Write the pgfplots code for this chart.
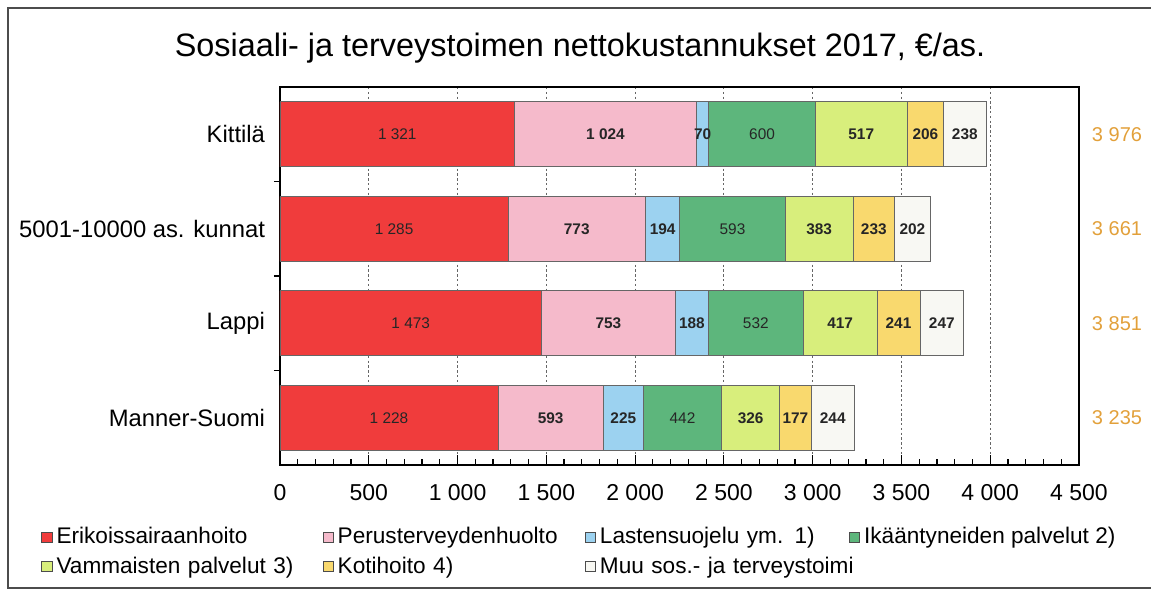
\documentclass[border=0pt]{standalone}
\usepackage{pgfplots}
\pgfplotsset{compat=1.18}
\usepackage{pgfplotstable}
\usepackage{fontspec}
\setmainfont{Liberation Sans}
\definecolor{cRed}{HTML}{F03C3C}
\definecolor{cPink}{HTML}{F5BACB}
\definecolor{cBlue}{HTML}{9CD2F0}
\definecolor{cGreen}{HTML}{5DB67C}
\definecolor{cLime}{HTML}{D8EE7C}
\definecolor{cYel}{HTML}{F9D96E}
\definecolor{cWhite}{HTML}{F8F8F3}
\definecolor{cTot}{HTML}{E2A03A}

\pgfplotstableread{
cat a b c d e f g
0 1321 1024 70 600 517 206 238
1 1285 773 194 593 383 233 202
2 1473 753 188 532 417 241 247
3 1228 593 225 442 326 177 244
}\data

\begin{document}
\begin{tikzpicture}
\useasboundingbox (-140pt,-63pt) rectangle (435.5pt,232.5pt);
\draw[black!70, line width=0.7pt] (435.5pt,228.5pt) -- (-136pt,228.5pt) -- (-136pt,-61.5pt) -- (435.5pt,-61.5pt);
\node[font=\fontsize{16.2}{19}\selectfont] at (150pt,208.5pt) {Sosiaali- ja terveystoimen nettokustannukset 2017, €/as.};
\begin{axis}[
  at={(0pt,0pt)}, anchor=south west,
  scale only axis, width=399.5pt, height=189pt,
  xbar stacked, bar width=32.5pt,
  xmin=0, xmax=4500, ymin=-0.5, ymax=3.5, y dir=reverse,
  clip=false,
  axis line style={black, line width=0.8pt},
  ytick={0,1,2,3},
  yticklabels={Kittilä, 5001-10000 as. kunnat, Lappi, Manner-Suomi},
  ytick style={draw=none},
  ytick pos=left, xtick pos=left,
  extra y ticks={0.5,1.5,2.5},
  extra y tick labels={},
  extra y tick style={ytick style={draw=black, line width=0.6pt}, tick align=outside, major tick length=3pt},
  yticklabel style={font=\fontsize{11.9}{14}\selectfont, xshift=-4pt},
  xtick={0,500,...,4500},
  minor x tick num=4,
  tick align=inside,
  xtick style={black, line width=0.6pt},
  major tick length=5pt, minor tick length=3pt,
  xmajorgrids,
  major grid style={black!60, line width=0.5pt, dash pattern=on 1.2pt off 1.2pt},
  /pgf/number format/assume math mode=true,
  xticklabel style={font=\fontsize{11.5}{13}\selectfont, yshift=-6pt, /pgf/number format/1000 sep={\ }},
  point meta=explicit,
  nodes near coords={\pgfmathprintnumber[1000 sep={\ }]{\pgfplotspointmeta}},
  every node near coord/.append style={anchor=center, font=\fontsize{7.7}{9}\selectfont, text=black!85},
  bld/.style={every node near coord/.append style={font=\fontsize{7.7}{9}\selectfont\bfseries}},
  legend columns=4,
  legend cell align=left,
  legend style={draw=none, fill=none, at={(-0.3067,-0.1429)}, anchor=north west,
    font=\fontsize{11.3}{13}\selectfont, row sep=1pt,
    /tikz/column 2/.style={nodes={text width=131pt}},
    /tikz/column 4/.style={nodes={text width=121.5pt}},
    /tikz/column 6/.style={nodes={text width=122.5pt}}},
  legend image code/.code={\draw[#1,draw=black!70,line width=0.4pt] (0pt,-2.6pt) rectangle (5.2pt,2.6pt);},
]
\addplot[fill=cRed, draw=black!60, line width=0.4pt] table[x=a, y=cat, meta=a] {\data};
\addplot[fill=cPink, draw=black!60, line width=0.4pt, bld] table[x=b, y=cat, meta=b] {\data};
\addplot[fill=cBlue, draw=black!60, line width=0.4pt, bld] table[x=c, y=cat, meta=c] {\data};
\addplot[fill=cGreen, draw=black!60, line width=0.4pt] table[x=d, y=cat, meta=d] {\data};
\addplot[fill=cLime, draw=black!60, line width=0.4pt, bld] table[x=e, y=cat, meta=e] {\data};
\addplot[fill=cYel, draw=black!60, line width=0.4pt, bld] table[x=f, y=cat, meta=f] {\data};
\addplot[fill=cWhite, draw=black!60, line width=0.4pt, bld] table[x=g, y=cat, meta=g] {\data};
\legend{Erikoissairaanhoito, Perusterveydenhuolto, Lastensuojelu ym. 1), Ikääntyneiden palvelut 2), Vammaisten palvelut 3), Kotihoito 4), \mbox{Muu sos.- ja terveystoimi}}
\node[font=\fontsize{10}{12}\selectfont, text=cTot] at (axis cs:4500,0) [xshift=19pt] {3 976};
\node[font=\fontsize{10}{12}\selectfont, text=cTot] at (axis cs:4500,1) [xshift=19pt] {3 661};
\node[font=\fontsize{10}{12}\selectfont, text=cTot] at (axis cs:4500,2) [xshift=19pt] {3 851};
\node[font=\fontsize{10}{12}\selectfont, text=cTot] at (axis cs:4500,3) [xshift=19pt] {3 235};
\end{axis}
\end{tikzpicture}
\end{document}
